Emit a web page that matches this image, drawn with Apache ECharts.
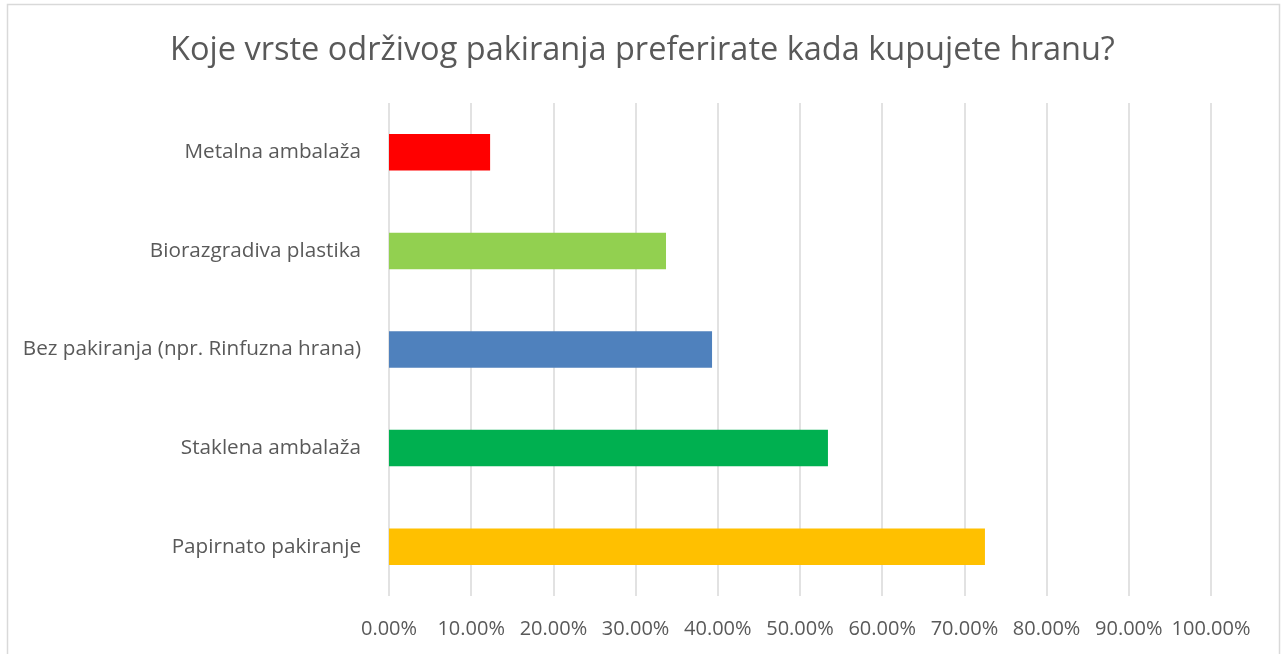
<!DOCTYPE html>
<html>
<head>
<meta charset="utf-8">
<script src="https://cdn.jsdelivr.net/npm/echarts@6/dist/echarts.min.js"></script>
<style>
  html, body { margin: 0; padding: 0; background: #fff; }
  #chart { width: 1285px; height: 654px; }
</style>
</head>
<body>
<div id="chart"></div>
<script>
// bottom to top, as on the picture
const categories = [
  'Papirnato pakiranje',
  'Staklena ambalaža',
  'Bez pakiranja (npr. Rinfuzna hrana)',
  'Biorazgradiva plastika',
  'Metalna ambalaža'
];
const shares = [72.5, 53.4, 39.3, 33.7, 12.3];
const barColors = ['#FFC000', '#00B050', '#4F81BD', '#92D050', '#FF0000'];

const chart = echarts.init(document.getElementById('chart'));

const option = {
  animation: false,
  title: {
    text: 'Koje vrste održivog pakiranja preferirate kada kupujete hranu?',
    left: 'center',
    top: 29,
    textStyle: {
      fontFamily: 'Open Sans',
      fontSize: 32.5,
      fontWeight: 'normal',
      color: '#595959'
    }
  },
  graphic: [
    {
      type: 'rect',
      shape: { x: 7.5, y: 4.5, width: 1272, height: 700 },
      style: { fill: 'none', stroke: '#d9d9d9', lineWidth: 1.5 },
      silent: true
    }
  ],
  grid: {
    left: 389,
    right: 74,
    top: 103,
    bottom: 58
  },
  xAxis: {
    type: 'value',
    min: 0,
    max: 100,
    interval: 10,
    axisLine: { show: false },
    axisTick: { show: false },
    splitLine: { lineStyle: { color: '#d9d9d9', width: 1.5 } },
    axisLabel: {
      margin: 23,
      fontFamily: 'Open Sans',
      fontSize: 20,
      color: '#595959',
      formatter: (v) => v.toFixed(2) + '%'
    }
  },
  yAxis: {
    type: 'category',
    data: categories,
    axisLine: { show: false },
    axisTick: { show: false },
    splitLine: { show: false },
    axisLabel: {
      margin: 28,
      fontFamily: 'Open Sans',
      fontSize: 20.7,
      color: '#595959'
    }
  },
  series: [
    {
      type: 'bar',
      data: shares.map((v, i) => ({ value: v, itemStyle: { color: barColors[i] } })),
      barCategoryGap: '63%',
      silent: true
    }
  ]
};

chart.setOption(option);
</script>
</body>
</html>
